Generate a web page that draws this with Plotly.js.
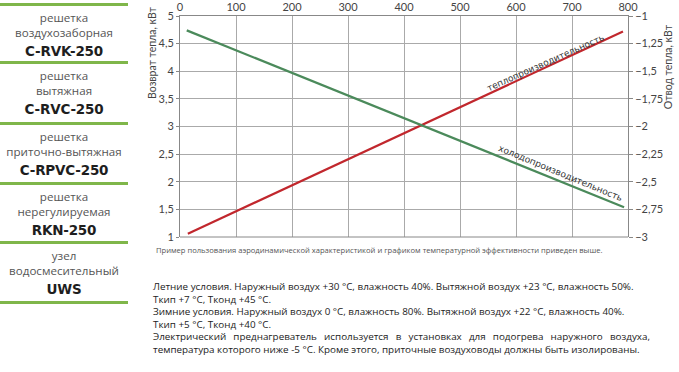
<!DOCTYPE html>
<html><head><meta charset="utf-8">
<script src="https://cdn.plot.ly/plotly-3.0.1.min.js"></script>
<style>
html,body{margin:0;padding:0;background:#fff;width:679px;height:372px;overflow:hidden;}
#chart{position:absolute;left:0;top:0;width:679px;height:372px;}
.sb{position:absolute;left:0;width:128px;text-align:center;font-family:"Open Sans",sans-serif;color:#555;white-space:nowrap;}
.ln{position:absolute;left:0;width:128px;height:3px;background:#7fb64a;}
.t{font-size:11.6px;line-height:15px;}
.c{font-size:13.5px;line-height:16px;font-weight:bold;color:#1e1e1e;font-family:"DejaVu Sans",sans-serif;letter-spacing:-0.2px;}
#txt{position:absolute;left:153px;top:280px;width:497px;font-family:"Open Sans",sans-serif;font-size:9.85px;line-height:12.5px;color:#222;}
#txt div{white-space:nowrap;}
#txt div.j{white-space:normal;text-align:justify;text-align-last:justify;}
</style></head>
<body>
<div id="chart"></div>
<div id="side"></div>
<div id="txt"></div>
<script>
// ---- data ----
var airflowHeat = [14, 791];
var heatOutput = [1.06, 4.72];          // кВт, left axis
var airflowCool = [12, 793];
var coolOutput = [-1.13, -2.73];        // кВт, right axis
var xTicks = [0,100,200,300,400,500,600,700,800];
var sideItems = [
  ["решетка","воздухозаборная","C-RVK-250"],
  ["решетка","вытяжная","C-RVC-250"],
  ["решетка","приточно-вытяжная","C-RPVC-250"],
  ["решетка","нерегулируемая","RKN-250"],
  ["узел","водосмесительный","UWS"]
];
var noteText = "Пример пользования аэродинамической характеристикой и графиком температурной эффективности приведен выше.";
var paragraphs = [
  ["Летние условия. Наружный воздух +30 °С, влажность 40%. Вытяжной воздух +23 °С, влажность 50%.", false],
  ["Ткип +7 °С, Тконд +45 °С.", false],
  ["Зимние условия. Наружный воздух 0 °С, влажность 80%. Вытяжной воздух +22 °С, влажность 40%.", false],
  ["Ткип +5 °С, Тконд +40 °С.", false],
  ["Электрический преднагреватель используется в установках для подогрева наружного воздуха,", true],
  ["температура которого ниже -5 °С. Кроме этого, приточные воздуховоды должны быть изолированы.", false]
];

// ---- sidebar ----
var side = document.getElementById('side');
var lineY = [3, 61, 122, 182, 241, 301];
var boxTop = [3, 61, 122, 182, 241];
var h = '';
lineY.forEach(function(y){ h += '<div class="ln" style="top:'+y+'px"></div>'; });
sideItems.forEach(function(it,i){
  var t0 = boxTop[i];
  h += '<div class="sb t" style="top:'+(t0+7)+'px">'+it[0]+'</div>';
  h += '<div class="sb t" style="top:'+(t0+22)+'px">'+it[1]+'</div>';
  h += '<div class="sb c" style="top:'+(t0+40)+'px">'+it[2]+'</div>';
});
side.innerHTML = h;

var tx = '';
paragraphs.forEach(function(p){ tx += '<div'+(p[1]?' class="j"':'')+'>'+p[0]+'</div>'; });
document.getElementById('txt').innerHTML = tx;

// ---- chart ----
var fnt = {family:"Lato, sans-serif", size:11, color:"#444"};
var traces = [
  {x: airflowHeat, y: heatOutput, mode:'lines', line:{color:'#c1272d', width:2.2}, yaxis:'y', hoverinfo:'skip'},
  {x: airflowCool, y: coolOutput, mode:'lines', line:{color:'#4b8a5b', width:2.2}, yaxis:'y2', hoverinfo:'skip'}
];
var layout = {
  width:679, height:372,
  margin:{l:180, r:51, t:16, b:135},
  paper_bgcolor:'rgba(0,0,0,0)', plot_bgcolor:'#fff',
  showlegend:false,
  separators:', ',
  font: fnt,
  xaxis:{range:[0,800], side:'top', tickvals:xTicks, showgrid:true, gridcolor:'#aaa', gridwidth:1,
         zeroline:false, showline:true, linecolor:'#888', mirror:false, ticks:'', tickfont:fnt, fixedrange:true},
  yaxis:{range:[1,5], dtick:0.5, showgrid:true, gridcolor:'#aaa', zeroline:false, showline:true, linecolor:'#888',
         ticks:'outside', ticklen:3, tickcolor:'#888', tickfont:fnt, fixedrange:true},
  yaxis2:{range:[-3,-1], dtick:0.25, overlaying:'y', side:'right', showgrid:false, zeroline:false, showline:true,
          linecolor:'#888', ticks:'outside', ticklen:4, tickcolor:'#888', tickfont:fnt, fixedrange:true},
  shapes:[
    {type:'line', xref:'paper', yref:'paper', x0:0, x1:1, y0:0, y1:0, line:{color:'#888', width:1}}
  ],
  annotations:[
    {xref:'paper', yref:'paper', x:-0.0625, y:0.833, xanchor:'center', yanchor:'middle',
     text:'Возврат тепла, кВт', textangle:-90, showarrow:false,
     font:{family:"Lato, sans-serif", size:10.5, color:'#444'}},
    {xref:'paper', yref:'paper', x:1.088, y:0.77, xanchor:'center', yanchor:'middle',
     text:'Отвод тепла, кВт', textangle:-90, showarrow:false,
     font:{family:"Lato, sans-serif", size:10.5, color:'#444'}},
    {xref:'x', yref:'y', x:652, y:4.15, text:'теплопроизводительность', textangle:-24, showarrow:false,
     font:{family:"DejaVu Sans, sans-serif", size:9, color:'#333'}},
    {xref:'x', yref:'y', x:679, y:2.16, text:'холодопроизводительность', textangle:22.5, showarrow:false,
     font:{family:"DejaVu Sans, sans-serif", size:9, color:'#333'}},
    {xref:'paper', yref:'paper', x:-0.058, y:-0.057, xanchor:'left', yanchor:'middle', text:noteText, showarrow:false,
     font:{family:"Open Sans, sans-serif", size:7.6, color:'#555'}}
  ]
};
Plotly.newPlot('chart', traces, layout, {displayModeBar:false, staticPlot:true});
</script>
</body></html>
